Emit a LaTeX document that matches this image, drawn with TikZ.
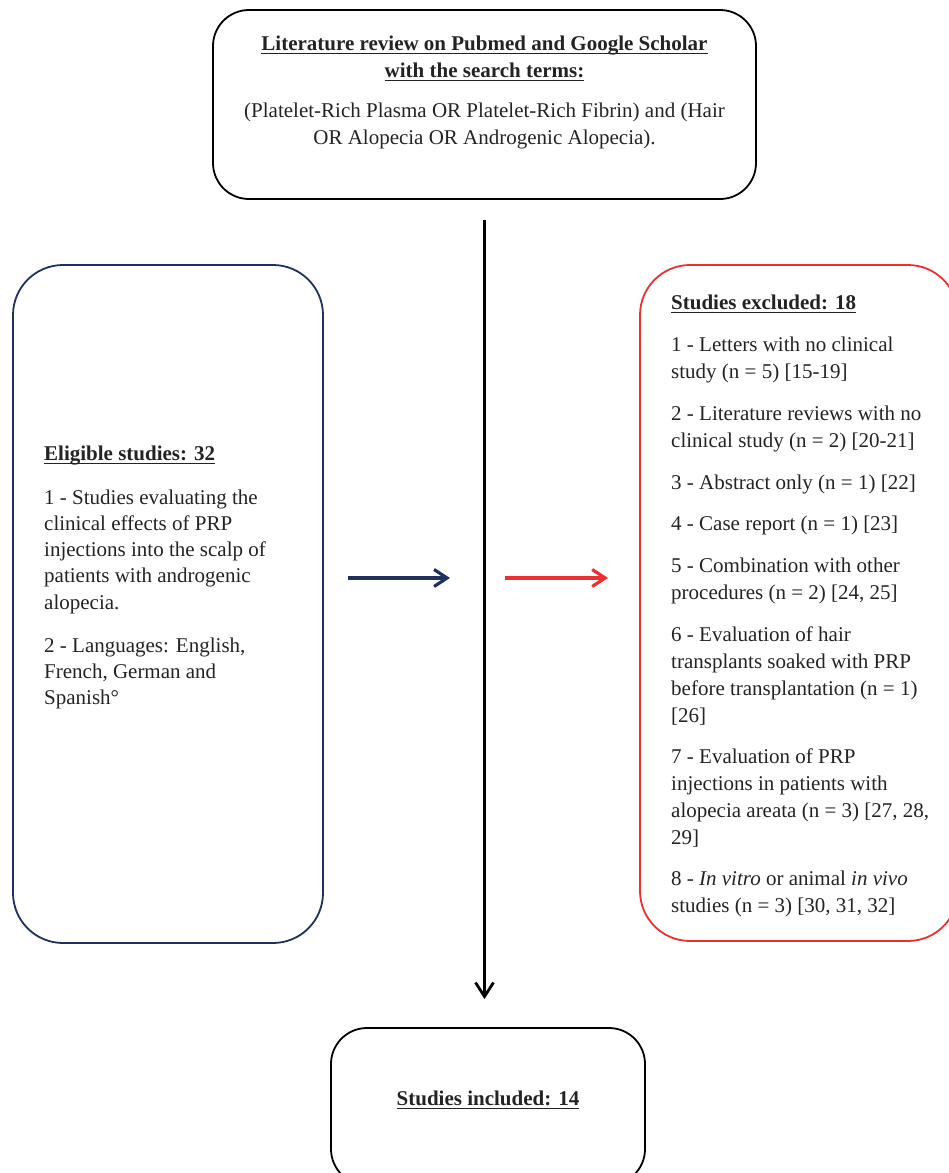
\documentclass[tikz,border=0pt]{standalone}
\usepackage{fontspec}
\setmainfont{Liberation Serif}
\usetikzlibrary{arrows.meta}
\definecolor{navyc}{RGB}{31,47,94}
\definecolor{redc}{RGB}{236,48,48}
\definecolor{txtc}{RGB}{35,35,35}
\tikzset{
  box/.style={draw, rectangle, line width=1.8pt, inner sep=0pt},
  txt/.style={text=txtc, inner sep=0pt, align=left, font=\fontsize{21}{27}\selectfont},
  txtl/.style={text=txtc, inner sep=0pt, align=left, font=\fontsize{21}{26.3}\selectfont},
  arr/.style={line width=2.8pt, -{Straight Barb[length=14pt,width=18pt,line width=2.8pt]}},
  harr/.style={line width=3.2pt, -{Straight Barb[length=13pt,width=17pt,line width=3.2pt]}},
}
\newcommand{\hd}[1]{\setbox0\hbox{\textbf{#1}}\rlap{\rule[-4.2pt]{\wd0}{1.4pt}}\box0}
\begin{document}
\begin{tikzpicture}[x=1pt,y=-1pt]
\useasboundingbox (0,0) rectangle (949,1173);
\clip (0,0) rectangle (949,1173);
% boxes
\node[box, rounded corners=36pt, minimum width=543pt, minimum height=189pt] (top) at (484.5,104.5) {};
\node[box, draw=navyc, rounded corners=50pt, minimum width=310pt, minimum height=678pt] (left) at (168,604) {};
\node[box, draw=redc, rounded corners=50pt, minimum width=318pt, minimum height=676pt] (right) at (799,603) {};
\node[box, rounded corners=36pt, minimum width=314pt, minimum height=157pt] (bot) at (488,1106.5) {};
% top text (anchor = baseline of last line)
\node[txt, align=center, anchor=base] (t1) at (484.5,77) {\hd{Literature review on Pubmed and Google Scholar}\\\hd{with the search terms:}};
\node[txt, align=center, anchor=base] (t2) at (484.5,144) {(Platelet-Rich Plasma OR Platelet-Rich Fibrin) and (Hair\\OR Alopecia OR Androgenic Alopecia).};
% left text
\node[txtl, anchor=base west] (l0) at (44,460) {\hd{Eligible studies: 32}};
\node[txtl, anchor=base west] (l1) at (44,609.2) {1 - Studies evaluating the\\clinical effects of PRP\\injections into the scalp of\\patients with androgenic\\alopecia.};
\node[txtl, anchor=base west] (l2) at (44,704.6) {2 - Languages: English,\\French, German and\\Spanish\textdegree};
% right text
\node[txt, anchor=base west] (r0) at (671,309) {\hd{Studies excluded: 18}};
\node[txt, anchor=base west] (r1) at (671,378) {1 - Letters with no clinical\\study (n = 5) [15-19]};
\node[txt, anchor=base west] (r2) at (671,447) {2 - Literature reviews with no\\clinical study (n = 2) [20-21]};
\node[txt, anchor=base west] (r3) at (671,489) {3 - Abstract only (n = 1) [22]};
\node[txt, anchor=base west] (r4) at (671,530) {4 - Case report (n = 1) [23]};
\node[txt, anchor=base west] (r5) at (671,599) {5 - Combination with other\\procedures (n = 2) [24, 25]};
\node[txt, anchor=base west] (r6) at (671,722) {6 - Evaluation of hair\\transplants soaked with PRP\\before transplantation (n = 1)\\{}[26]};
\node[txt, anchor=base west] (r7) at (671,844) {7 - Evaluation of PRP\\injections in patients with\\alopecia areata (n = 3) [27, 28,\\29]};
\node[txt, anchor=base west] (r8) at (671,912) {8 - \textit{In vitro} or animal \textit{in vivo}\\studies (n = 3) [30, 31, 32]};
% bottom text
\node[txt, anchor=base] (b0) at (488,1105) {\hd{Studies included: 14}};
% arrows
\coordinate (mid) at (485,578);
\draw[arr, black, shorten <=20pt, shorten >=28pt] (top.south) -- (top.south |- bot.north);
\draw[harr, navyc, shorten <=24pt, shorten >=35pt] (left.east |- mid) -- (mid);
\draw[harr, redc, shorten <=20pt, shorten >=31pt] (mid) -- (right.west |- mid);
\end{tikzpicture}
\end{document}
